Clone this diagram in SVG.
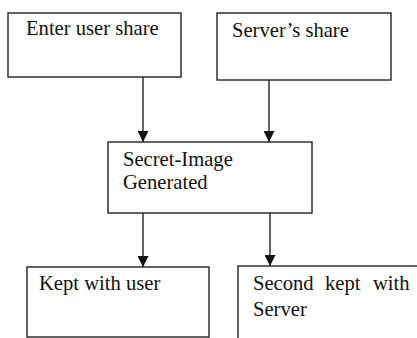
<svg xmlns="http://www.w3.org/2000/svg" width="417" height="338" viewBox="0 0 417 338">
<style>
.box{fill:#fff;stroke:#222;stroke-width:1.4}
.t{font-family:"Liberation Serif","DejaVu Serif","Times New Roman",serif;font-size:20.6px;fill:#111}
.c{stroke:#333;stroke-width:1.5;fill:none}
</style>
<defs>
<marker id="ah" markerWidth="11" markerHeight="11" refX="11" refY="5.5" orient="auto" markerUnits="userSpaceOnUse" viewBox="0 0 11 11">
<path d="M0,0 L11,5.5 L0,11 Z" fill="#111"/>
</marker>
</defs>
<rect width="417" height="338" fill="#fff"/>
<g id="connectors">
<line class="c" x1="143" y1="77" x2="143" y2="142" marker-end="url(#ah)"/>
<line class="c" x1="269" y1="80" x2="269" y2="142" marker-end="url(#ah)"/>
<line class="c" x1="143" y1="213" x2="143" y2="267" marker-end="url(#ah)"/>
<line class="c" x1="270" y1="213" x2="270" y2="266" marker-end="url(#ah)"/>
</g>
<g id="enter-user-share">
<rect class="box" x="8" y="13" width="173" height="64"/>
<text class="t" x="26" y="35">Enter user share</text>
</g>
<g id="servers-share">
<rect class="box" x="217" y="13" width="174" height="67"/>
<text class="t" x="232" y="37">Server’s share</text>
</g>
<g id="secret-image">
<rect class="box" x="108" y="142" width="204" height="71"/>
<text class="t" x="123" y="166">Secret-Image</text>
<text class="t" x="123" y="189">Generated</text>
</g>
<g id="kept-with-user">
<rect class="box" x="27" y="267" width="182" height="70"/>
<text class="t" x="39" y="290">Kept with user</text>
</g>
<g id="second-kept">
<rect class="box" x="238" y="266" width="200" height="100"/>
<text class="t" y="290"><tspan x="253">Second</tspan><tspan x="325">kept</tspan><tspan x="373">with</tspan></text>
<text class="t" x="253" y="316">Server</text>
</g>
</svg>
